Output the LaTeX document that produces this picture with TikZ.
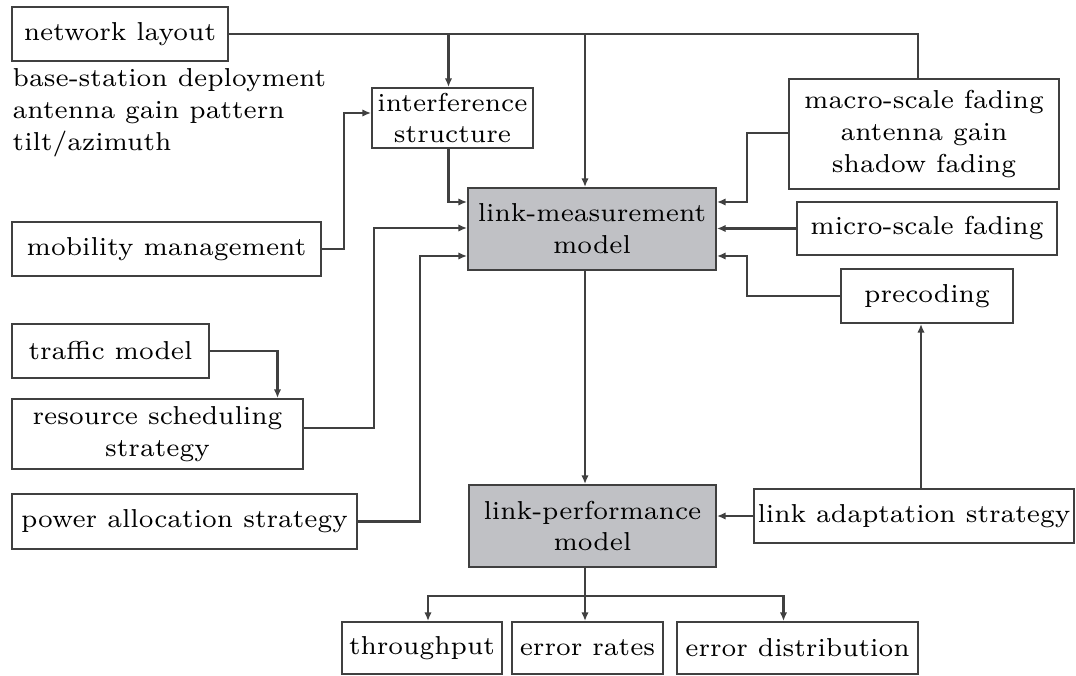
\documentclass[tikz,border=0pt]{standalone}
\usepackage{tikz}
\usetikzlibrary{calc,arrows.meta}
\usepackage{xcolor}
\definecolor{modelg}{RGB}{192,193,197}
\newcommand{\blkfont}{\fontsize{7}{8.6}\selectfont}
\tikzset{
  blk/.style={rectangle,draw=black!75,line width=0.55pt,inner sep=0pt,align=center,font=\blkfont},
  mdl/.style={blk,fill=modelg},
  sz/.style 2 args={minimum width=#1*0.27pt,minimum height=#2*0.27pt},
  link/.style={line width=0.55pt,black!75},
  flow/.style={link,-{Latex[length=2.3pt,width=2pt]}},
}
\begin{document}
\begin{tikzpicture}[x=0.27pt,y=-0.27pt]
  \useasboundingbox (0,0) rectangle (1076,676);
  % inputs on the left
  \node[blk,sz={216}{54}] (netlay) at (120,34) {network layout};
  \node[font=\blkfont,align=left,anchor=north west,inner sep=0pt] (netpar) at (12,68) {base-station deployment\\antenna gain pattern\\tilt/azimuth};
  \node[blk,sz={309}{54}] (mob) at (166.5,249) {mobility management};
  \node[blk,sz={197}{54}] (traffic) at (110.5,351) {traffic model};
  \node[blk,sz={291}{70}] (rsched) at (157.5,434) {resource scheduling\\strategy};
  \node[blk,sz={345}{55}] (power) at (184.5,521.5) {power allocation strategy};
  % models
  \node[blk,sz={161}{60}] (intf) at (452.5,118) {interference\\structure};
  \node[mdl,sz={248}{82}] (lmm) at (592,229) {link-measurement\\model};
  \node[mdl,sz={247}{82}] (lpm) at (592.5,526) {link-performance\\model};
  % inputs on the right
  \node[blk,sz={270}{110}] (macro) at (924,134) {macro-scale fading\\antenna gain\\shadow fading};
  \node[blk,sz={260}{53}] (micro) at (927,228.5) {micro-scale fading};
  \node[blk,sz={172}{54}] (precod) at (927,296) {precoding};
  \node[blk,sz={320}{54}] (linkad) at (914,516) {link adaptation strategy};
  % outputs
  \node[blk,sz={160}{52}] (thru) at (422,648) {throughput};
  \node[blk,sz={151}{52}] (errr) at (587.5,648) {error rates};
  \node[blk,sz={241}{52}] (errd) at (797.5,648) {error distribution};

  \coordinate (intfx) at ($(intf.north)+(-4,0)$);
  \coordinate (lmmx) at ($(lmm.north)+(-7,0)$);
  \coordinate (macx) at ($(macro.north)+(-6,0)$);
  \coordinate (ladx) at ($(linkad.north)+(7,0)$);
  \draw[link] (netlay.east) -| (macx);
  \draw[flow] (intfx |- netlay.east) -- (intfx);
  \draw[flow] (lmmx |- netlay.east) -- (lmmx);
  \draw[flow] (intfx |- intf.south) |- ($(lmm.west)+(0,-27)$);
  \draw[flow] (mob.east) -- ++(22,0) |- ($(intf.west)+(0,-5)$);
  \draw[flow] (traffic.east) -| ($(rsched.north)+(120,0)$);
  \draw[flow] ($(rsched.east)+(0,-6)$) -- ++(70,0) |- ($(lmm.west)+(0,-1)$);
  \draw[flow] (power.east) -- ++(62,0) |- ($(lmm.west)+(0,27)$);
  \draw[flow] ($(macro.west)+(0,-1)$) -- ++(-41,0) |- ($(lmm.east)+(0,-27)$);
  \draw[flow] (micro.west) -- (micro.west -| lmm.east);
  \draw[flow] (precod.west) -- ++(-93,0) |- ($(lmm.east)+(0,27)$);
  \draw[flow] (ladx) -- (ladx |- precod.south);
  \draw[flow] (linkad.west) -- (linkad.west -| lpm.east);
  \draw[flow] (lmmx |- lmm.south) -- (lmmx |- lpm.north);
  % outputs
  \coordinate (lpmout) at (lmmx |- lpm.south);
  \coordinate (bus) at ($(lpmout)+(0,28)$);
  \draw[link] (lpmout) -- (bus);
  \draw[flow] (bus) -| ($(thru.north)+(6,0)$);
  \draw[flow] (bus) -- (bus |- errr.north);
  \draw[flow] (bus) -| ($(errd.north)+(-14,0)$);
\end{tikzpicture}
\end{document}
